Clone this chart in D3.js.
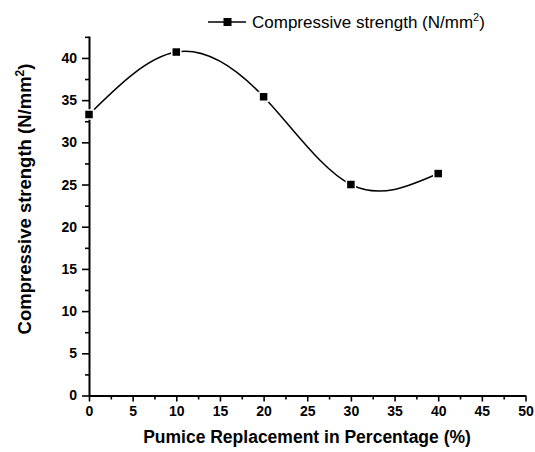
<html>
<head>
<script src="https://d3js.org/d3.v7.min.js"></script>
<style>
  body { margin: 0; background: #fff; }
  text { font-family: "Liberation Sans", Arial, sans-serif; }
</style>
</head>
<body>
<div id="chart"></div>
<script>
// values
var replacement = [0, 10, 20, 30, 40];
var strength = [33.3, 40.7, 35.4, 25.0, 26.3];
var xTicks = [0, 5, 10, 15, 20, 25, 30, 35, 40, 45, 50];
var yTicks = [0, 5, 10, 15, 20, 25, 30, 35, 40];

var W = 535, H = 452;
var mLeft = 89, mRight = 525.5, mTop = 36, mBottom = 395.5;

var svg = d3.select("#chart").append("svg")
    .attr("width", W).attr("height", H);

var xs = d3.scaleLinear().domain([0, 50]).range([mLeft, mRight]);
var ys = d3.scaleLinear().domain([0, 42.6]).range([mBottom, mTop]);

// minor ticks first
svg.append("g")
    .attr("transform", "translate(0," + mBottom + ")")
    .call(d3.axisBottom(xs).tickValues(d3.range(2.5, 50, 5)).tickSize(4).tickFormat(""))
    .call(function(g){ g.select(".domain").remove(); })
    .selectAll("line").attr("stroke-width", 1.6);
svg.append("g")
    .attr("transform", "translate(" + mLeft + ",0)")
    .call(d3.axisLeft(ys).tickValues(d3.range(2.5, 42.6, 5)).tickSize(4).tickFormat(""))
    .call(function(g){ g.select(".domain").remove(); })
    .selectAll("line").attr("stroke-width", 1.6);

var xAxis = svg.append("g")
    .attr("transform", "translate(0," + mBottom + ")")
    .call(d3.axisBottom(xs).tickValues(xTicks).tickSize(6).tickSizeOuter(0).tickPadding(5));
var yAxis = svg.append("g")
    .attr("transform", "translate(" + mLeft + ",0)")
    .call(d3.axisLeft(ys).tickValues(yTicks).tickSize(7).tickSizeOuter(0).tickPadding(5));

[xAxis, yAxis].forEach(function(a){
    a.select(".domain").attr("stroke-width", 2);
    a.selectAll("line").attr("stroke-width", 1.6);
    a.selectAll("text")
        .style("font-family", "'Liberation Sans', Arial, sans-serif")
        .style("font-size", "14px")
        .style("font-weight", "bold")
        .attr("fill", "#000");
});

// axis titles
svg.append("text")
    .attr("x", 307)
    .attr("y", 443)
    .attr("text-anchor", "middle")
    .style("font-size", "17.5px")
    .style("font-weight", "bold")
    .text("Pumice Replacement in Percentage (%)");

var yl = svg.append("text")
    .attr("transform", "translate(31,199) rotate(-90)")
    .attr("text-anchor", "middle")
    .style("font-size", "18.5px")
    .style("font-weight", "bold");
yl.append("tspan").text("Compressive strength (N/mm");
yl.append("tspan").attr("dy", -7).style("font-size", "12px").text("2");
yl.append("tspan").attr("dy", 7).text(")");

// data
var pts = replacement.map(function(d, i){ return [xs(d), ys(strength[i])]; });
svg.append("path")
    .attr("d", d3.line().curve(d3.curveNatural)(pts))
    .attr("fill", "none")
    .attr("stroke", "#000")
    .attr("stroke-width", 1.5);

svg.selectAll("rect.pt").data(pts).enter().append("rect")
    .attr("class", "pt")
    .attr("x", function(d){ return d[0] - 4.5; })
    .attr("y", function(d){ return d[1] - 4.5; })
    .attr("width", 9).attr("height", 9)
    .attr("fill", "#000")
    .attr("stroke", "#fff")
    .attr("stroke-width", 1.5);

// legend
var lg = svg.append("g").attr("transform", "translate(208,22)");
lg.append("line").attr("x1", 0).attr("x2", 38).attr("y1", 0).attr("y2", 0)
    .attr("stroke", "#000").attr("stroke-width", 1.5);
lg.append("rect").attr("x", 15.5).attr("y", -4).attr("width", 8).attr("height", 8).attr("fill", "#000");
var lt = lg.append("text").attr("x", 44).attr("y", 6).style("font-size", "17px");
lt.append("tspan").text("Compressive strength (N/mm");
lt.append("tspan").attr("dy", -7).style("font-size", "11px").text("2");
lt.append("tspan").attr("dy", 7).text(")");
</script>
</body>
</html>
